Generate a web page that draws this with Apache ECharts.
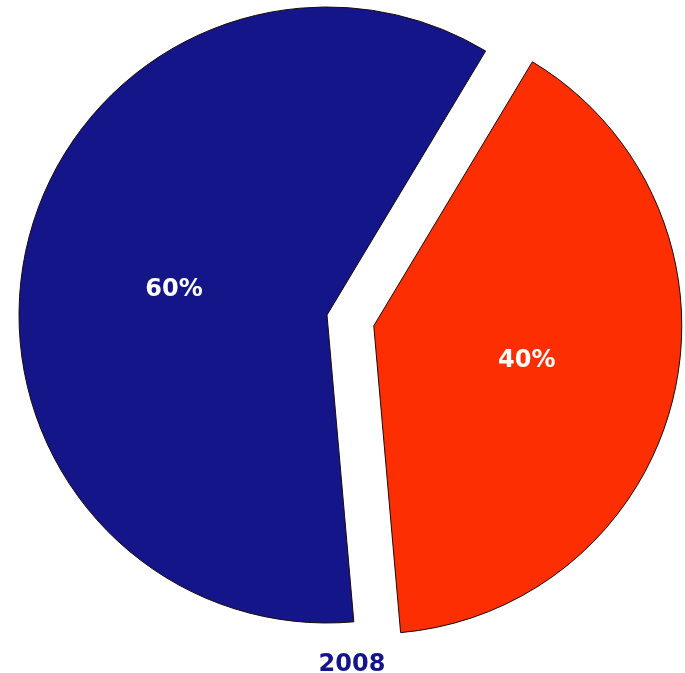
<!DOCTYPE html>
<html>
<head>
<meta charset="utf-8">
<script src="https://cdn.jsdelivr.net/npm/echarts@6/dist/echarts.min.js"></script>
<style>
html,body{margin:0;padding:0;background:#fff;}
#chart{width:685px;height:673px;}
</style>
</head>
<body>
<div id="chart"></div>
<script>
// Data
const titleText = '2008';
const categories = ['Red share', 'Blue share'];
const values = [40, 60];
const explodedFlags = [true, false];

const sliceColors = ['#FE2E03', '#15158A'];
const labelOffsets = [[3, 2], [0, 10]];

const chart = echarts.init(document.getElementById('chart'), null, {renderer: 'canvas'});
const data = categories.map((c, i) => ({
  name: c,
  value: values[i],
  selected: explodedFlags[i],
  itemStyle: {color: sliceColors[i]},
  label: {offset: labelOffsets[i]}
}));

chart.setOption({
  animation: false,
  backgroundColor: '#ffffff',
  title: {
    text: titleText,
    left: 347,
    top: 648,
    textAlign: 'center',
    textStyle: {
      fontFamily: 'DejaVu Sans',
      fontWeight: 'bold',
      fontSize: 24,
      color: '#15158A'
    }
  },
  series: [{
    type: 'pie',
    center: [327, 315],
    radius: 308,
    startAngle: 59,
    clockwise: true,
    selectedMode: 'single',
    selectedOffset: 48,
    avoidLabelOverlap: false,
    silent: true,
    itemStyle: {borderColor: '#1a0a0a', borderWidth: 1},
    label: {
      show: true,
      position: 'inside',
      formatter: '{d}%',
      color: '#ffffff',
      fontFamily: 'DejaVu Sans',
      fontWeight: 'bold',
      fontSize: 24
    },
    labelLine: {show: false},
    emphasis: {disabled: true},
    data: data
  }]
});
</script>
</body>
</html>
